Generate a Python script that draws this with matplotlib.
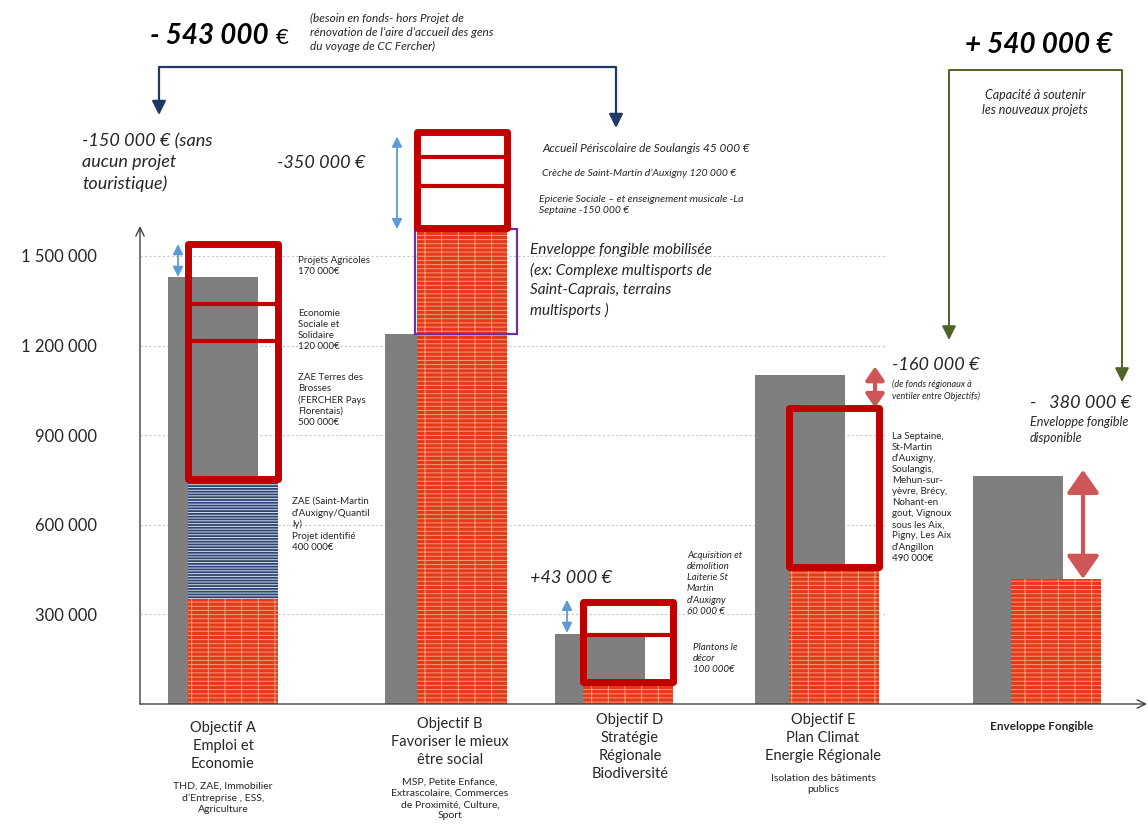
import matplotlib.pyplot as plt
import matplotlib.transforms as mtransforms
from matplotlib.lines import Line2D

W, H = 1148, 834

plt.rcParams['font.family'] = ['Lato', 'DejaVu Sans']
plt.rcParams['hatch.linewidth'] = 0.7

# --- données (euros) ---
categories = ['Objectif A', 'Objectif B', 'Objectif D', 'Objectif E', 'Enveloppe Fongible']
dotation = [1430000, 1240000, 235000, 1100000, 765000]     # barres grises
engage = [350000, 1590000, 74000, 460000, 420000]          # briques
zae_A = [350000, 750000]                                    # bande bleue objectif A
projets_A = [755000, 1215000, 1340000, 1540000]
projets_B = [1595000, 1733000, 1833000, 1914000]
projets_D = [74000, 231000, 342000]
projets_E = [459000, 992000]
mobilise_B = [1240000, 1590000]
fleches_bleues = [(1540000, 1430000), (1900000, 1590000), (349000, 238000)]
fleche_E = (1130000, 992000)
fleche_F = (784000, 419000)
yticks = [300000, 600000, 900000, 1200000, 1500000]
ytick_labels = ['300 000', '600 000', '900 000', '1 200 000', '1 500 000']

# --- mise en page (pixels) ---
x_gris = [168, 385, 555, 755, 973]
x_brique = [188, 417, 583, 789, 1011]
larg = 90
x_fleches_bleues = [178, 397, 567]
x_fleche_E, x_fleche_F = 875, 1083

ROUGE = '#C00000'
BRIQUE = '#E43A1A'
JOINT = '#F49A78'
GRIS = '#7F7F7F'
NAVY = '#1F3864'
BLEU = '#5B9BD5'
ROSE = '#CF5656'
OLIVE = '#4F6228'
TXT = '#262626'

fig = plt.figure(figsize=(W / 100, H / 100), dpi=100)
ax = fig.add_axes([140 / W, (H - 704) / H, (W - 140) / W, 704 / H])
ax.set_xlim(140, W)
ax.set_ylim(0, 704 * 300000 / 89.6)
for s in ax.spines.values():
    s.set_visible(False)
ax.set_xticks([])
ax.set_yticks(yticks, ytick_labels, fontsize=12, color=TXT)
ax.tick_params(axis='y', length=0, pad=31)

pix = mtransforms.Affine2D().scale(1 / W, -1 / H).translate(0, 1) + fig.transFigure


def txt(x, y, s, size, **kw):
    kw.setdefault('va', 'center')
    kw.setdefault('color', TXT)
    fig.text(x / W, 1 - y / H, s, fontsize=size, **kw)


# grille pointillée
ax.hlines(yticks, 140, 885, colors='#C8C8C8', linestyles=(0, (2, 2)), lw=0.8, zorder=0)

# barres
ax.bar(x_gris, dotation, width=larg, align='edge', color=GRIS, zorder=2)
ax.bar(x_brique, engage, width=larg, align='edge', color=BRIQUE, edgecolor=JOINT,
       hatch='----|', linewidth=0, zorder=3)
ax.bar(x_brique[0], zae_A[1] - zae_A[0], bottom=zae_A[0], width=larg, align='edge',
       color='#2E4372', edgecolor='#D5DCEA', hatch='------', linewidth=0, zorder=3)

# cadres projets
for i, bords in zip([0, 1, 2, 3], [projets_A, projets_B, projets_D, projets_E]):
    x0 = x_brique[i]
    ax.bar(x0, bords[-1] - bords[0], bottom=bords[0], width=larg, align='edge',
           fill=False, edgecolor=ROUGE, linewidth=5, joinstyle='round', zorder=5)
    if len(bords) > 2:
        ax.hlines(bords[1:-1], x0, x0 + larg, colors=ROUGE, lw=3, zorder=5)

# enveloppe mobilisée B
ax.bar(x_brique[1] - 2, mobilise_B[1] - mobilise_B[0], bottom=mobilise_B[0],
       width=larg + 12, align='edge', fill=False, edgecolor='#7030A0', linewidth=1.6,
       zorder=4)

# flèches doubles
for xf, (y1, y2) in zip(x_fleches_bleues, fleches_bleues):
    ax.annotate('', xy=(xf, y2), xytext=(xf, y1), annotation_clip=False,
                arrowprops=dict(arrowstyle='<|-|>,head_length=0.6,head_width=0.3',
                                mutation_scale=10, lw=1.3, color=BLEU,
                                shrinkA=0, shrinkB=0))
ax.annotate('', xy=(x_fleche_E, fleche_E[1]), xytext=(x_fleche_E, fleche_E[0]),
            annotation_clip=False,
            arrowprops=dict(arrowstyle='<|-|>,head_length=0.8,head_width=0.55',
                            mutation_scale=10, lw=3, color=ROSE, shrinkA=0, shrinkB=0))
ax.annotate('', xy=(x_fleche_F, fleche_F[1]), xytext=(x_fleche_F, fleche_F[0]),
            annotation_clip=False,
            arrowprops=dict(arrowstyle='<|-|>,head_length=1.0,head_width=0.7',
                            mutation_scale=14, lw=3, color=ROSE, shrinkA=0, shrinkB=0))

# axes avec flèches
ax.annotate('', xy=(140, 1600000), xytext=(140, 0), annotation_clip=False,
            arrowprops=dict(arrowstyle='->', lw=1, color='#404040', shrinkA=0, shrinkB=0,
                            mutation_scale=15))
ax.annotate('', xy=(W - 1, 0), xytext=(140, 0), annotation_clip=False,
            arrowprops=dict(arrowstyle='->', lw=1, color='#404040', shrinkA=0, shrinkB=0,
                            mutation_scale=15))

# crochets du haut
fig.add_artist(Line2D([159, 159, 616, 616], [105, 67, 67, 115], transform=pix,
                      color=NAVY, lw=1.6))
for xa, ya in [(159, 115), (616, 128)]:
    ax.annotate('', xy=(xa, ya), xytext=(xa, ya - 15), xycoords=pix, textcoords=pix,
                arrowprops=dict(arrowstyle='-|>,head_length=0.6,head_width=0.3',
                                mutation_scale=14, lw=1.6, color=NAVY,
                                shrinkA=0, shrinkB=0))
fig.add_artist(Line2D([949, 949, 1122, 1122], [330, 70, 70, 372], transform=pix,
                      color=OLIVE, lw=1.4))
for xa, ya in [(949, 340), (1122, 382)]:
    ax.annotate('', xy=(xa, ya), xytext=(xa, ya - 15), xycoords=pix, textcoords=pix,
                arrowprops=dict(arrowstyle='-|>,head_length=0.6,head_width=0.3',
                                mutation_scale=14, lw=1.4, color=OLIVE,
                                shrinkA=0, shrinkB=0))

# textes du haut
txt(150, 36, '- 543 000', 20, weight='bold', style='italic', color='black')
txt(276, 38, '€', 16, color='black')
txt(310, 13, '(besoin en fonds- hors Projet de\nrénovation de l’aire d’accueil des gens\n'
    'du voyage de CC Fercher)', 8.5, style='italic', va='top', linespacing=1.35)
txt(965, 45, '+ 540 000 €', 20, weight='bold', style='italic', color='black')
txt(1035, 89, 'Capacité à soutenir\nles nouveaux projets', 9, style='italic', va='top',
    ha='center', linespacing=1.3)
txt(82, 133, '-150 000 € (sans\naucun projet\ntouristique)', 13, style='italic', va='top',
    linespacing=1.38)
txt(277, 163, '-350 000 €', 13, style='italic')
txt(530, 578, '+43 000 €', 13, style='italic')
txt(892, 365, '-160 000 €', 13, style='italic')
txt(892, 379, '(de fonds régionaux à\nventiler entre Objectifs)', 6.5, style='italic',
    va='top', linespacing=1.4)
txt(1030, 403, '-   380 000 €', 13, style='italic')
txt(1030, 416, 'Enveloppe fongible\ndisponible', 9, style='italic', va='top',
    linespacing=1.36)

# textes B
txt(542, 148, 'Accueil Périscolaire de Soulangis 45 000 €', 8.5, style='italic')
txt(542, 173, 'Crèche de Saint-Martin d’Auxigny 120 000 €', 7.5, style='italic')
txt(539, 195, 'Epicerie Sociale – et enseignement musicale -La\nSeptaine -150 000 €', 7.5,
    style='italic', va='top', linespacing=1.34)
txt(530, 243, 'Enveloppe fongible mobilisée\n(ex: Complexe multisports de\n'
    'Saint-Caprais, terrains\nmultisports )', 11, style='italic', va='top',
    linespacing=1.47)

# textes A
txt(298, 256, 'Projets Agricoles\n170 000€', 7, va='top', linespacing=1.3)
txt(298, 309, 'Economie\nSociale et\nSolidaire\n120 000€', 7, va='top', linespacing=1.3)
txt(298, 373, 'ZAE Terres des\nBrosses\n(FERCHER Pays\nFlorentais)\n500 000€', 7, va='top',
    linespacing=1.3)
txt(292, 497, 'ZAE (Saint-Martin\nd’Auxigny/Quantil\nly)\nProjet identifié\n400 000€', 7,
    va='top', linespacing=1.3)

# textes D
txt(687, 551, 'Acquisition et\ndémolition\nLaiterie St\nMartin\nd’Auxigny\n60 000 €', 7,
    style='italic', va='top', linespacing=1.3)
txt(693, 643, 'Plantons le\ndécor\n100 000€', 7, style='italic', va='top', linespacing=1.3)

# textes E
txt(892, 432, 'La Septaine,\nSt-Martin\nd’Auxigny,\nSoulangis,\nMehun-sur-\nyèvre, Brécy,\n'
    'Nohant-en\ngout, Vignoux\nsous les Aix,\nPigny, Les Aix\nd’Angillon\n490 000€', 7,
    va='top', linespacing=1.28)

# libellés des catégories
titres = ['Objectif A\nEmploi et\nEconomie', 'Objectif B\nFavoriser le mieux\nêtre social',
          'Objectif D\nStratégie\nRégionale\nBiodiversité',
          'Objectif E\nPlan Climat\nEnergie Régionale']
sous_titres = ['THD, ZAE, Immobilier\nd’Entreprise , ESS,\nAgriculture',
               'MSP, Petite Enfance,\nExtrascolaire, Commerces\nde Proximité, Culture,\nSport',
               '', 'Isolation des bâtiments\npublics']
x_lab = [223, 450, 630, 823]
y_lab = [721, 717, 713, 713]
y_sous = [782, 778, 0, 774]
for xl, yl, ys, t, st in zip(x_lab, y_lab, y_sous, titres, sous_titres):
    txt(xl, yl, t, 10.5, ha='center', va='top', linespacing=1.37)
    if st:
        txt(xl, ys, st, 7.5, ha='center', va='top', linespacing=1.3)
txt(1042, 727, categories[4], 8.5, ha='center', weight='bold')

fig.savefig('out.png', dpi=100)
